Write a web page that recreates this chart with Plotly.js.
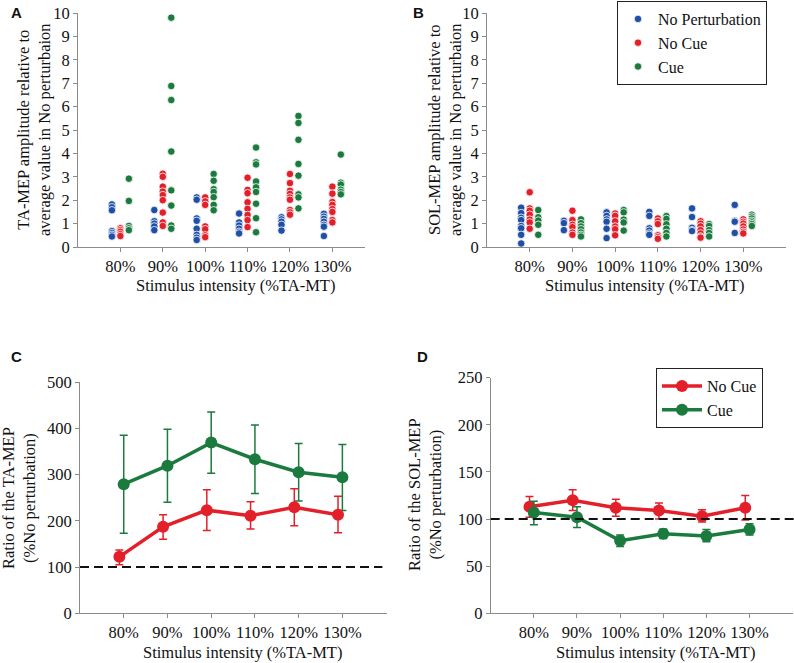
<!DOCTYPE html>
<html>
<head>
<meta charset="utf-8">
<script src="https://cdn.plot.ly/plotly-3.0.1.min.js"></script>
<style>html,body{margin:0;padding:0;background:#fff;}#chart{width:794px;height:663px;}</style>
</head>
<body>
<div id="chart"></div>
<script>
// ---------- DATA ----------
const categories = ['80%', '90%', '100%', '110%', '120%', '130%'];

// Panel A: TA-MEP amplitude relative to average value in No perturbation (per category)
const taNoPerturbation = [
  [1.82, 1.7, 1.57, 0.68, 0.6, 0.52, 0.45],
  [1.58, 1.1, 1.0, 0.88, 0.72],
  [2.12, 2.02, 1.22, 1.12, 0.78, 0.52, 0.4, 0.3],
  [1.43, 1.05, 0.92, 0.78, 0.65, 0.58],
  [1.27, 1.18, 1.08, 0.95, 0.7],
  [1.42, 1.3, 1.2, 1.08, 0.95, 0.87, 0.47]
];
const taNoCue = [
  [0.8, 0.72, 0.65, 0.55, 0.47],
  [3.13, 3.0, 2.58, 2.37, 2.22, 2.0, 1.47, 1.05, 0.9],
  [2.12, 1.95, 1.8, 0.88, 0.76, 0.5, 0.42],
  [2.96, 2.44, 2.3, 1.91, 1.63, 1.37, 1.15, 0.85],
  [3.12, 2.73, 2.4, 2.27, 2.12, 2.02, 1.58, 1.48, 1.38],
  [2.58, 2.28, 1.92, 1.8, 1.62, 1.5, 1.15, 1.05]
];
const taCue = [
  [2.92, 1.97, 0.9, 0.8, 0.72],
  [9.8, 6.88, 6.28, 4.08, 2.42, 1.77, 0.92, 0.78],
  [3.12, 2.83, 2.47, 2.35, 2.13, 1.8, 1.57],
  [4.25, 3.62, 3.53, 2.8, 2.55, 2.35, 1.85, 1.23, 0.63],
  [5.6, 5.3, 4.58, 3.55, 3.05, 2.25, 2.12, 1.65],
  [3.95, 2.75, 2.67, 2.45, 2.35, 2.25]
];

// Panel B: SOL-MEP amplitude relative to average value in No perturbation
const solNoPerturbation = [
  [1.68, 1.45, 1.25, 1.15, 0.9, 0.8, 0.52, 0.15],
  [1.12, 1.02, 0.72],
  [1.48, 1.33, 1.18, 1.08, 0.78, 0.38],
  [1.5, 1.33, 0.8, 0.7, 0.58, 0.52],
  [1.65, 1.28, 0.82, 0.72, 0.68],
  [1.8, 1.12, 1.08, 0.6]
];
const solNoCue = [
  [2.34, 1.65, 1.55, 1.38, 1.17, 1.05, 0.78],
  [1.55, 1.15, 0.95, 0.85, 0.62, 0.52],
  [1.43, 1.33, 1.1, 0.88, 0.76, 0.5],
  [1.22, 1.1, 0.98, 0.5, 0.42, 0.35],
  [1.1, 1.0, 0.88, 0.72, 0.58, 0.45, 0.4],
  [1.18, 1.08, 1.0, 0.88, 0.75, 0.65, 0.58]
];
const solCue = [
  [1.58, 1.27, 1.13, 0.95, 0.52],
  [1.18, 1.02, 0.88, 0.76, 0.62, 0.52, 0.45],
  [1.58, 1.48, 1.17, 1.05, 0.7],
  [1.32, 1.2, 0.97, 0.78, 0.6, 0.45],
  [0.98, 0.9, 0.72, 0.6, 0.45],
  [1.38, 1.3, 1.22, 1.12, 1.05, 0.98, 0.9]
];

// Panel C: Ratio of the TA-MEP (%No perturbation), mean and error bars
const cNoCueMean = [122, 187, 223, 211, 229, 213];
const cNoCueErrPlus = [15, 26, 44, 30, 40, 40];
const cNoCueErrMinus = [17, 27, 44, 29, 40, 39];
const cCueMean = [279, 319, 369, 333, 305, 294];
const cCueErrPlus = [106, 79, 66, 74, 62, 71];
const cCueErrMinus = [106, 79, 66, 74, 62, 72];

// Panel D: Ratio of the SOL-MEP (%No perturbation)
const dNoCueMean = [113, 120, 112, 109, 103, 112];
const dNoCueErrPlus = [11, 11, 9, 8, 7, 13];
const dNoCueErrMinus = [11, 11, 9, 9, 6, 13];
const dCueMean = [107, 102, 77, 84.5, 82, 89];
const dCueErrPlus = [12, 11, 6, 5, 7, 6];
const dCueErrMinus = [13, 11, 6, 5, 6, 6];

// ---------- STYLE ----------
const BLUE = '#1f4fa6';
const RED = '#e3202a';
const GREEN = '#1b7a3d';
const SERIF = 'Liberation Serif';
const AXC = '#8c8c8c';
const catPos = categories.map((c, i) => i + 1);

function dotTrace(groups, offset, color, name, xa, ya, showLegend) {
  const xs = [], ys = [];
  groups.forEach((vals, i) => vals.forEach(v => { xs.push(catPos[i] + offset); ys.push(v); }));
  return {
    type: 'scatter', mode: 'markers', x: xs, y: ys, name: name,
    xaxis: xa, yaxis: ya, showlegend: showLegend, legend: 'legend',
    marker: {color: color, size: 7.5, line: {color: '#ffffff', width: 0.8}},
    hoverinfo: 'skip'
  };
}
function lineTrace(mean, plus, minus, offset, color, name, xa, ya, showLegend) {
  return {
    type: 'scatter', mode: 'lines+markers', name: name,
    x: catPos.map(p => p + offset), y: mean,
    xaxis: xa, yaxis: ya, showlegend: showLegend, legend: 'legend2',
    line: {color: color, width: 3.5},
    marker: {color: color, size: 12},
    error_y: {type: 'data', symmetric: false, array: plus, arrayminus: minus,
              color: color, thickness: 1.5, width: 4},
    hoverinfo: 'skip'
  };
}

const traces = [
  dotTrace(taNoPerturbation, -0.2, BLUE, 'No Perturbation', 'x', 'y', false),
  dotTrace(taNoCue, 0, RED, 'No Cue', 'x', 'y', false),
  dotTrace(taCue, 0.2, GREEN, 'Cue', 'x', 'y', false),
  dotTrace(solNoPerturbation, -0.2, BLUE, 'No Perturbation', 'x2', 'y2', true),
  dotTrace(solNoCue, 0, RED, 'No Cue', 'x2', 'y2', true),
  dotTrace(solCue, 0.2, GREEN, 'Cue', 'x2', 'y2', true),
  lineTrace(cCueMean, cCueErrPlus, cCueErrMinus, 0, GREEN, 'Cue', 'x3', 'y3', false),
  lineTrace(cNoCueMean, cNoCueErrPlus, cNoCueErrMinus, -0.1, RED, 'No Cue', 'x3', 'y3', false),
  lineTrace(dNoCueMean, dNoCueErrPlus, dNoCueErrMinus, -0.1, RED, 'No Cue', 'x4', 'y4', true),
  lineTrace(dCueMean, dCueErrPlus, dCueErrMinus, 0, GREEN, 'Cue', 'x4', 'y4', true)
];

const W = 794, H = 663;
const px = v => v / W;
const py = v => (H - v) / H;
const tickFont = {family: SERIF, size: 16.5, color: '#111'};

function xAxis(l, r, maxR, anchor) {
  return {
    domain: [px(l), px(r)], range: [0, maxR], anchor: anchor,
    tickvals: catPos, ticktext: categories,
    showgrid: false, zeroline: false, showline: true, linecolor: AXC, linewidth: 1,
    ticks: 'outside', ticklen: 4, tickcolor: AXC,
    tickfont: tickFont, fixedrange: true
  };
}
function yAxis(bottom, top, range, dtick, anchor) {
  return {
    domain: [py(bottom), py(top)], range: range, dtick: dtick, anchor: anchor,
    showgrid: false, zeroline: false, showline: true, linecolor: AXC, linewidth: 1,
    ticks: 'outside', ticklen: 4, tickcolor: AXC,
    tickfont: tickFont, fixedrange: true
  };
}

const titleFont = {family: SERIF, size: 16.5, color: '#111'};
const letterFont = {family: 'Liberation Sans', size: 15, color: '#111'};
const legendFont = {family: SERIF, size: 16, color: '#111'};
function ann(text, x, y, font, angle) {
  return {text: text, x: px(x), y: py(y), xref: 'paper', yref: 'paper',
          showarrow: false, xanchor: 'center', yanchor: 'middle',
          font: font, textangle: angle || 0};
}

const layout = {
  width: W, height: H,
  font: {family: SERIF, size: 16, color: '#111'},
  margin: {l: 0, r: 0, t: 0, b: 0},
  paper_bgcolor: '#ffffff', plot_bgcolor: '#ffffff',
  xaxis: xAxis(78, 365, 6.77, 'y'),
  yaxis: yAxis(247, 13, [0, 10], 1, 'x'),
  xaxis2: xAxis(487, 786, 7.0, 'y2'),
  yaxis2: yAxis(247, 13, [0, 10], 1, 'x2'),
  xaxis3: xAxis(80, 387, 7.02, 'y3'),
  yaxis3: yAxis(613.3, 382, [0, 500], 100, 'x3'),
  xaxis4: xAxis(490.7, 792.7, 7.0, 'y4'),
  yaxis4: yAxis(613.3, 377.7, [0, 250], 50, 'x4'),
  legend: {
    x: px(617), y: py(1), xanchor: 'left', yanchor: 'top',
    bordercolor: '#222', borderwidth: 1, bgcolor: '#fff',
    font: legendFont, itemclick: false, itemdoubleclick: false
  },
  legend2: {
    x: px(656), y: py(368), xanchor: 'left', yanchor: 'top',
    bordercolor: '#222', borderwidth: 1, bgcolor: '#fff', itemwidth: 40,
    font: legendFont, itemclick: false, itemdoubleclick: false
  },
  shapes: [
    {type: 'line', xref: 'x3 domain', yref: 'y3', x0: 0, x1: 0.985, y0: 100, y1: 100,
     line: {color: '#111', width: 2, dash: '9px,5px'}},
    {type: 'line', xref: 'x4 domain', yref: 'y4', x0: 0, x1: 1.01, y0: 100, y1: 100,
     line: {color: '#111', width: 2, dash: '9px,5px'}}
  ],
  annotations: [
    ann('<b>A</b>', 16, 12, letterFont),
    ann('<b>B</b>', 418, 12, letterFont),
    ann('<b>C</b>', 16, 356, letterFont),
    ann('<b>D</b>', 422, 356, letterFont),
    ann('TA-MEP amplitude relative to<br>average value in No perturbaion', 34, 130, titleFont, -90),
    ann('SOL-MEP amplitude relative to<br>average value in No perturbaion', 445, 130, titleFont, -90),
    ann('Ratio of the TA-MEP<br>(%No perturbation)', 19, 498, titleFont, -90),
    ann('Ratio of the SOL-MEP<br>(%No perturbation)', 425, 495, titleFont, -90),
    ann('Stimulus intensity (%TA-MT)', 236, 285, titleFont),
    ann('Stimulus intensity (%TA-MT)', 644, 285, titleFont),
    ann('Stimulus intensity (%TA-MT)', 242, 652, titleFont),
    ann('Stimulus intensity (%TA-MT)', 655, 652, titleFont)
  ]
};

Plotly.newPlot('chart', traces, layout, {displayModeBar: false, staticPlot: true});
</script>
</body>
</html>
